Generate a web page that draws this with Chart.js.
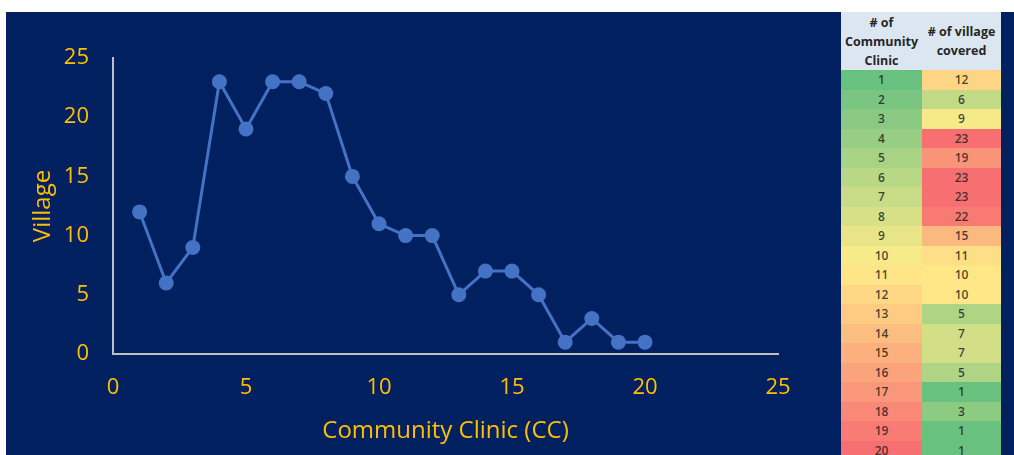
<!DOCTYPE html>
<html>
<head>
<meta charset="utf-8">
<script src="https://cdn.jsdelivr.net/npm/chart.js@4/dist/chart.umd.min.js"></script>
<style>
  html, body { margin: 0; padding: 0; background: #ffffff; width: 1014px; height: 455px; overflow: hidden; }
  #navy { position: absolute; left: 6px; top: 12px; width: 1008px; height: 443px; background: #002060; }
  #wrap { position: absolute; left: 6px; top: 12px; width: 835px; height: 443px; }
  #tbl { position: absolute; left: 841px; top: 12px; width: 160px; height: 443px; overflow: hidden; }
  table { border-collapse: collapse; width: 160px; table-layout: fixed; font-family: "Open Sans", "Liberation Sans", sans-serif; }
  th { background: #dce6f1; color: #262626; font-size: 12.5px; font-weight: 700; line-height: 19px; height: 58px; padding: 0; text-align: center; vertical-align: middle; }
  td { height: 19.5px; padding: 0; font-size: 12px; font-weight: 600; text-align: center; color: rgba(30,30,30,0.82); line-height: 19.5px; }
  col.c1 { width: 81px; } col.c2 { width: 79px; }
</style>
</head>
<body>
<div id="navy"></div>
<div id="wrap"><canvas id="c" width="835" height="443"></canvas></div>
<div id="tbl"></div>
<script>
const clinics = [1,2,3,4,5,6,7,8,9,10,11,12,13,14,15,16,17,18,19,20];
const villages = [12,6,9,23,19,23,23,22,15,11,10,10,5,7,7,5,1,3,1,1];
const xTicks = [0,5,10,15,20,25];
const yTicks = [0,5,10,15,20,25];
const xTitle = "Community Clinic (CC)";
const yTitle = "Village";
const headers = ["# of<br>Community<br>Clinic", "# of village<br>covered"];

// Excel-like 3-colour scale (green - yellow - red)
const LOW = [99,190,123], MID = [255,235,132], HIGH = [248,105,107];
function median(a){ const s=[...a].sort((p,q)=>p-q); const n=s.length; return n%2? s[(n-1)/2] : (s[n/2-1]+s[n/2])/2; }
function mix(a,b,t){ return a.map((v,i)=>Math.round(v+(b[i]-v)*t)); }
function scaleColor(v, arr){
  const mn=Math.min(...arr), mx=Math.max(...arr), md=median(arr);
  let c;
  if (v<=md) c = mix(LOW, MID, (v-mn)/(md-mn||1));
  else c = mix(MID, HIGH, (v-md)/(mx-md||1));
  c = mix(c,[255,255,255],0.04);
  return `rgb(${c[0]},${c[1]},${c[2]})`;
}
let html = '<table><colgroup><col class="c1"><col class="c2"></colgroup><tr><th>'+headers[0]+'</th><th>'+headers[1]+'</th></tr>';
clinics.forEach((c,i)=>{
  html += '<tr><td style="background:'+scaleColor(c,clinics)+'">'+c+'</td><td style="background:'+scaleColor(villages[i],villages)+'">'+villages[i]+'</td></tr>';
});
html += '</table>';
document.getElementById('tbl').innerHTML = html;

const GOLD = '#FFC000';
const AXIS = '#bfbfbf';
const FONT = "'Open Sans', 'Liberation Sans', sans-serif";

new Chart(document.getElementById('c'), {
  type: 'line',
  data: {
    datasets: [{
      data: clinics.map((c,i)=>({x:c, y:villages[i]})),
      borderColor: '#4472C4',
      backgroundColor: '#4472C4',
      borderWidth: 3,
      pointRadius: 7.5,
      pointBorderWidth: 0,
      pointBackgroundColor: '#4472C4',
      tension: 0,
      fill: false
    }]
  },
  options: {
    responsive: false,
    animation: false,
    devicePixelRatio: 1,
    layout: { padding: { top: 46, right: 63, left: 0, bottom: 0 } },
    plugins: { legend: { display: false }, tooltip: { enabled: false }, title: { display: false } },
    scales: {
      x: {
        type: 'linear', min: xTicks[0], max: xTicks[xTicks.length-1],
        afterFit: s => { s.height = 101; },
        afterBuildTicks: s => { s.ticks = xTicks.map(v=>({value:v})); },
        grid: { display: false, drawTicks: false },
        border: { display: true, color: AXIS, width: 2 },
        ticks: { color: GOLD, font: { family: FONT, size: 22 }, padding: 21, maxRotation: 0 },
        title: { display: true, text: xTitle, color: GOLD, font: { family: FONT, size: 24 }, padding: { top: 0, bottom: 9.5 } }
      },
      y: {
        type: 'linear', min: yTicks[0], max: yTicks[yTicks.length-1],
        afterFit: s => { s.width = 107; },
        afterBuildTicks: s => { s.ticks = yTicks.map(v=>({value:v})); },
        grid: { display: false, drawTicks: false },
        border: { display: true, color: AXIS, width: 2 },
        ticks: { color: GOLD, font: { family: FONT, size: 22 }, padding: 24 },
        title: { display: true, text: yTitle, color: GOLD, font: { family: FONT, size: 24 }, padding: { top: 22.5, bottom: 0 } }
      }
    }
  }
});
</script>
</body>
</html>
